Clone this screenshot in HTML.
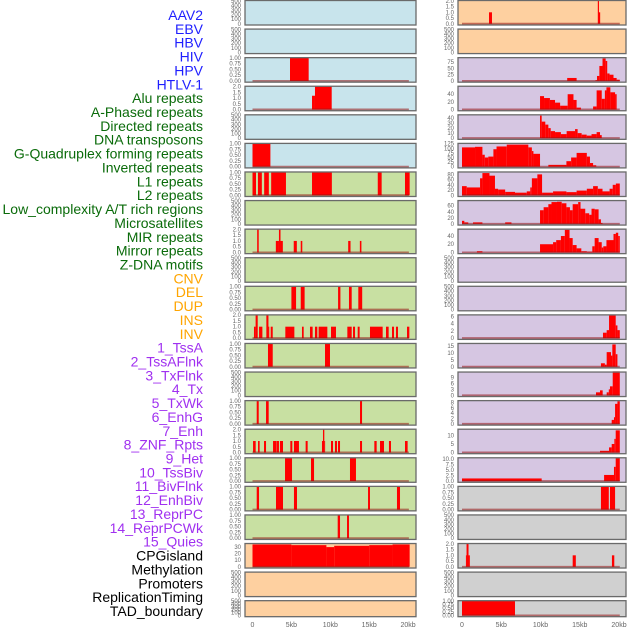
<!DOCTYPE html>
<html><head><meta charset="utf-8">
<style>
html,body{margin:0;padding:0;background:#fff;width:630px;height:630px;overflow:hidden}
svg{display:block}
.lab{font-family:"Liberation Sans",sans-serif;font-size:14px}
.tk{font-family:"Liberation Sans",sans-serif;font-size:6px;fill:#666}
.xt{font-family:"Liberation Sans",sans-serif;font-size:7px;fill:#666}
</style></head>
<body>
<svg id="chart" width="630" height="630" viewBox="0 0 630 630"></svg>
<script>
const trackNames = ["AAV2","EBV","HBV","HIV","HPV","HTLV-1","Alu repeats","A-Phased repeats","Directed repeats","DNA transposons","G-Quadruplex forming repeats","Inverted repeats","L1 repeats","L2 repeats","Low_complexity A/T rich regions","Microsatellites","MIR repeats","Mirror repeats","Z-DNA motifs","CNV","DEL","DUP","INS","INV","1_TssA","2_TssAFlnk","3_TxFlnk","4_Tx","5_TxWk","6_EnhG","7_Enh","8_ZNF_Rpts","9_Het","10_TssBiv","11_BivFlnk","12_EnhBiv","13_ReprPC","14_ReprPCWk","15_Quies","CPGisland","Methylation","Promoters","ReplicationTiming","TAD_boundary"];
const trackGroups = [0,0,0,0,0,0,1,1,1,1,1,1,1,1,1,1,1,1,1,2,2,2,2,2,3,3,3,3,3,3,3,3,3,3,3,3,3,3,3,4,4,4,4,4];
const groupColors = ["#1f1fff","#0a6b0a","#ffa500","#a030f0","#000000"];
const xTicks = [0,5,10,15,20];
const xTickLabels = ["0","5kb","10kb","15kb","20kb"];

// left column panels: segments [startKb, endKb, value]
const leftSegs = [
 [],[],
 [[4.82,7.22,1]],
 [[7.65,8.03,1.2],[8.03,10.18,2]],
 [],
 [[0,2.3,1]],
 [[0,0.45,1],[0.7,1.2,1],[1.5,2.1,1],[2.4,4.3,1],[7.65,10.2,1],[16.1,16.6,1],[19.6,20.2,1]],
 [],
 [[0.6,0.8,2],[3.0,3.4,1],[3.4,3.6,2],[3.6,3.9,1],[5.3,5.7,1],[6.2,6.4,1],[12.3,12.6,1],[13.8,14.0,1]],
 [],
 [[5.0,5.6,1],[6.2,6.7,1],[11.0,11.3,1],[12.4,12.75,1],[13.6,14.1,1]],
 [[0.19,0.4,1],[0.4,0.67,2],[0.84,1.27,1],[1.78,2.05,2],[2.05,2.12,1],[2.34,2.6,1],[4.22,5.38,1],[6.36,6.58,1],[7.39,7.73,1],[8.03,8.33,1],[8.5,9.62,1],[10.09,10.73,1],[12.19,12.75,1],[12.92,13.18,1],[13.52,13.77,1],[15.1,16.73,1],[17.16,17.5,1],[17.93,18.19,1],[18.44,18.7,1],[19.86,20.16,1]],
 [[1.99,2.6,1],[9.32,9.96,1]],
 [],
 [[0.54,0.8,1],[1.74,2.08,1],[13.82,14.08,1]],
 [[0.07,0.41,1],[0.71,0.92,1],[1.48,1.74,1],[2.64,3.11,1],[3.15,3.4,1],[3.53,3.92,1],[4.86,5.12,1],[5.33,5.97,1],[6.83,7.09,1],[8.93,9.06,1],[9.06,9.23,2],[9.23,9.32,1],[10.09,10.35,1],[10.6,10.86,1],[10.99,11.25,1],[13.82,14.08,1],[15.66,15.96,1],[16.39,16.9,1],[17.54,17.8,1],[19.6,19.94,1]],
 [[4.18,5.08,1],[7.52,7.91,1],[12.53,13.3,1]],
 [[0.54,0.84,1],[3.02,3.92,1],[5.33,5.72,1],[14.85,15.1,1],[18.57,18.96,1]],
 [[10.95,11.25,1],[12.15,12.4,1]],
 [[0,5,34],[5,9.5,33],[9.5,10.5,30],[10.5,15,32],[15,18,33],[18,20.2,34]],
 [],[]
];
const rightSegs = [
 [[3.44,3.82,1],[17.3,17.45,2],[17.45,17.6,1]],
 [],
 [[13.4,14.6,12],[17.0,17.2,3],[17.2,17.5,20],[17.5,17.9,60],[17.9,18.3,90],[18.3,18.5,80],[18.5,18.8,30],[18.8,19.3,25],[19.3,19.7,12],[19.7,20.1,5]],
 [[9.94,10.45,35],[10.45,11.2,30],[11.2,11.85,25],[11.85,12.5,18],[12.5,13.46,10],[13.46,14.2,40],[14.2,14.6,25],[14.6,15.15,5],[16.7,17.15,8],[17.15,17.8,50],[17.8,18.2,28],[18.2,18.4,50],[18.4,18.9,58],[18.9,19.5,45],[19.5,19.7,40]],
 [[9.94,10.15,45],[10.15,10.61,33],[10.61,11,27],[11,11.3,20],[11.3,11.85,14],[11.85,12.6,12],[12.6,13.33,8],[13.33,14.4,14],[14.4,14.73,18],[14.73,15.24,10],[15.24,15.88,7],[15.88,16.5,5],[16.5,17.15,8],[17.15,17.58,12],[17.58,17.8,6]],
 [[0,1.66,105],[1.66,2.6,108],[2.6,2.9,65],[2.9,3.35,50],[3.35,4,55],[4,4.4,95],[4.4,5.7,110],[5.7,8.45,120],[8.45,8.9,105],[8.9,9.1,85],[9.1,9.94,70],[11,13.3,10],[13.3,13.9,30],[13.9,14.6,50],[14.6,15.9,75],[15.9,16.3,55],[16.3,16.7,20],[16.7,17.1,8]],
 [[0,0.6,35],[0.6,2.3,30],[2.3,2.6,65],[2.6,3.5,85],[3.5,4.2,75],[4.2,4.6,25],[4.6,5.5,22],[5.5,6.75,13],[6.75,8.25,10],[8.25,8.7,15],[8.7,8.9,30],[8.9,9.6,65],[9.6,10.2,80],[10.2,11.6,10],[11.6,13.3,15],[13.3,14.6,12],[14.6,15.9,18],[15.9,16.7,25],[16.7,17.3,35],[17.3,17.9,25],[17.9,18.8,15],[18.8,19.2,25],[19.2,19.6,40],[19.6,20.1,45]],
 [[0,0.3,10],[0.3,0.8,5],[1.4,2.6,5],[5.5,6.3,5],[9.94,10.4,45],[10.4,11,55],[11,11.4,65],[11.4,12.1,72],[12.1,12.7,73],[12.7,13.3,68],[13.3,13.75,55],[13.75,14.1,45],[14.1,14.8,65],[14.8,15.1,72],[15.1,15.7,50],[15.7,16.2,35],[16.2,16.5,30],[16.5,16.9,50],[16.9,17.4,48],[17.4,17.7,15],[17.7,17.9,3]],
 [[1.9,2.6,3],[9.94,11.6,20],[11.6,12.0,25],[12.0,12.6,30],[12.6,13.1,40],[13.1,13.7,55],[13.7,14.1,35],[14.1,14.6,18],[14.6,15.2,10],[15.2,15.9,3],[15.9,16.6,2],[16.6,16.9,15],[16.9,17.4,35],[17.4,17.8,25],[17.8,18.0,12],[18.0,18.4,15],[18.4,19.3,30],[19.3,19.6,45],[19.6,19.9,48],[19.9,20.1,40]],
 [],[],
 [[17.96,18.43,1.5],[18.43,18.73,2.2],[18.73,19.58,6.2],[19.58,19.8,3.5],[19.8,20.1,2.2]],
 [[17.7,18.2,2.5],[18.2,18.43,1.5],[18.43,18.98,10.5],[18.98,19.15,8],[19.15,19.58,16],[19.58,19.8,9]],
 [[17.07,17.58,1.5],[17.58,17.92,2.5],[18.43,18.7,1.5],[18.7,18.85,3],[18.85,19.2,4.5],[19.2,20.1,12]],
 [[19.07,19.36,1.5],[19.36,19.5,2.5],[19.5,19.8,7.5],[19.8,20.1,8.5]],
 [[17.58,18.73,1],[18.73,19.07,3],[19.07,19.41,5],[19.41,19.58,8],[19.58,20.1,13]],
 [[0,10.15,1.2],[18.1,19.36,2.8],[19.36,19.58,6.5],[19.58,20.1,10.5]],
 [[17.7,18.7,1],[18.85,19.5,1]],
 [],
 [[0.5,0.58,1],[0.58,0.83,2],[0.83,1.0,1],[14.1,14.5,1],[19.1,19.4,1]],
 [],
 [[0,6.75,1]]
];
const EMPTY=[0,100,200,300,400,500], P1=[0,0.25,0.5,0.75,1], P2=[0,0.5,1,1.5,2];
const leftTicks = [EMPTY,EMPTY,P1,P2,EMPTY,P1,P1,EMPTY,P2,EMPTY,P1,P2,P1,EMPTY,P1,P2,P1,P1,P1,[0,10,20,30],EMPTY,EMPTY];
const rightTicks = [P2,EMPTY,[0,25,50,75],[0,20,40],[0,10,20,30,40],[0,25,50,75,100,125],[0,20,40,60,80],[0,20,40,60],[0,20,40],EMPTY,EMPTY,[0,2,4,6],[0,5,10,15],[0,3,6,9],[0,2,4,6,8],[0,5,10],[0,2.5,5,7.5,10],P1,EMPTY,P2,EMPTY,P1];
const leftMax = [500,500,1,2,500,1,1,500,2,500,1,2,1,500,1,2,1,1,1,35,500,500];
const rightMax = [2,500,92,60,46,125,88,76,56,500,500,6.3,16.5,11.5,8.6,13.5,10.5,1,500,2,500,1];
const leftBg = ["b","b","b","b","b","b","g","g","g","g","g","g","g","g","g","g","g","g","g","o","o","o"];
const rightBg = ["o","o","p","p","p","p","p","p","p","p","p","p","p","p","p","p","p","g2","g2","g2","g2","g2"];
</script>
<script>
const svg=document.getElementById('chart');
const NS='http://www.w3.org/2000/svg';
const BG={b:'#c8e4ec',g:'#c8e0a2',o:'#fed0a0',p:'#d6c6e2',g2:'#d0d0d0'};
function mk(t,a,p){const e=document.createElementNS(NS,t);for(const k in a)e.setAttribute(k,a[k]);(p||svg).appendChild(e);return e;}
// labels
trackNames.forEach((n,i)=>{
  const t=mk('text',{x:203,y:15+i*13.86+5,'text-anchor':'end',class:'lab',fill:groupColors[trackGroups[i]]});
  t.textContent=n;
  
  
});
const cols=[
 {x0:245,x1:416,z:252.5,k:7.78,segs:leftSegs,ticks:leftTicks,max:leftMax,bg:leftBg,lx:241,name:'left'},
 {x0:458,x1:626,z:462,k:7.85,segs:rightSegs,ticks:rightTicks,max:rightMax,bg:rightBg,lx:454,name:'right'}
];
function fmt(v,ticks){
  const mx=ticks[ticks.length-1];
  if(mx===1) return v.toFixed(2);
  if(mx===2) return v.toFixed(1);
  if(ticks.includes(2.5)) return v.toFixed(1);
  return String(v);
}
cols.forEach(c=>{
  const xs=kb=>c.z+kb*c.k;
  for(let i=0;i<22;i++){
    const top=0.5+i*28.58, h=(i===21)?16:24.5, bot=top+h;
    const g=mk('g',{});
    
    
    const bg=mk('rect',{x:c.x0,y:top,width:c.x1-c.x0,height:h,fill:BG[c.bg[i]]},g);
    
    
    const ticks=c.ticks[i], mx=c.max[i];
    const empty=c.segs[i].length===0;
    const y0=bot-1.2, ys=v=>y0-(v/mx)*(y0-top-0.3);
    c.segs[i].forEach(s=>{
      const r=mk('rect',{x:xs(s[0]),y:ys(s[2]),width:Math.max(0.8,xs(s[1])-xs(s[0])),height:y0-ys(s[2]),fill:'#ff0000'},g);
      
      
    });
    if(!empty){
      const bl=mk('line',{x1:xs(0),x2:xs(20.1),y1:y0,y2:y0,stroke:'rgba(150,20,20,0.55)','stroke-width':2},g);
      
      
    }
    const br=mk('rect',{x:c.x0,y:top,width:c.x1-c.x0,height:h,fill:'none',stroke:'#6a6a6a','stroke-width':1.3},g);
    
    
    ticks.forEach(v=>{
      const t=mk('text',{x:c.lx,y:ys(v)+2,'text-anchor':'end',class:'tk'},g);
      t.textContent=fmt(v,ticks);
      
      
    });
  }
  xTicks.forEach((v,j)=>{
    const t=mk('text',{x:xs(v),y:627,'text-anchor':'middle',class:'xt'});
    t.textContent=xTickLabels[j];
    
    
  });
});
</script>
</body></html>
